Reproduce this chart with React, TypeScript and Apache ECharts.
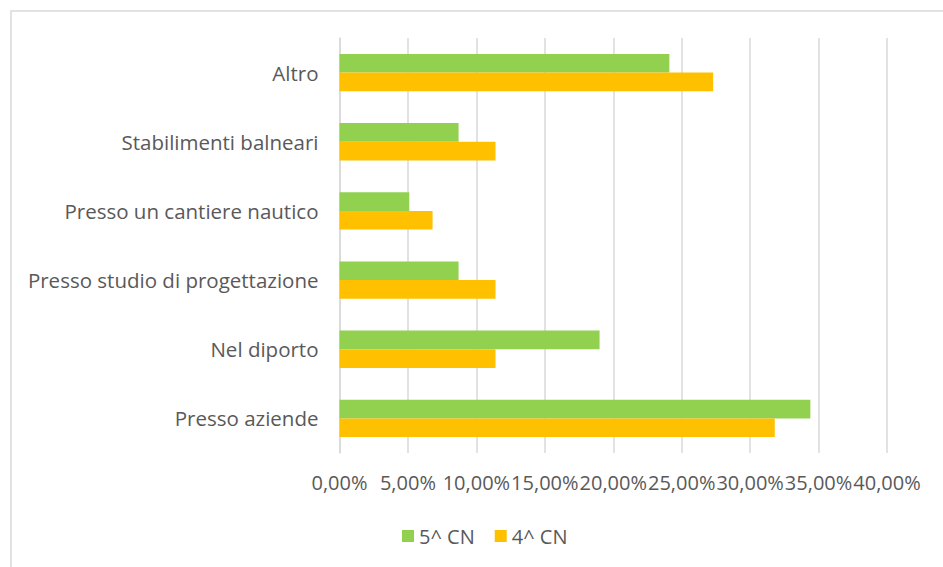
import React, { useEffect, useRef } from "react";
import * as echarts from "echarts";

const categories = [
  "Presso aziende",
  "Nel diporto",
  "Presso studio di progettazione",
  "Presso un cantiere nautico",
  "Stabilimenti balneari",
  "Altro",
];
const seriesNames = ["5^ CN", "4^ CN"];
const values5 = [34.4, 19.0, 8.7, 5.1, 8.7, 24.1];
const values4 = [31.8, 11.4, 11.4, 6.8, 11.4, 27.3];
const colors = ["#92D050", "#FFC000"];

const FONT = "'Open Sans', 'Segoe UI', sans-serif";
const TEXT = "#595959";

export default function App() {
  const ref = useRef<HTMLDivElement>(null);
  useEffect(() => {
    if (!ref.current) return;
    const chart = echarts.init(ref.current, undefined, { renderer: "svg" });
    chart.setOption({
      animation: false,
      backgroundColor: "#ffffff",
      textStyle: { fontFamily: FONT, color: TEXT },
      graphic: [
        {
          type: "rect",
          shape: { x: 11, y: 11, width: 1000, height: 1000 },
          style: { fill: "none", stroke: "#d9d9d9", lineWidth: 1.5 },
          silent: true,
        },
      ],
      grid: { left: 339.5, right: 56, top: 38, bottom: 114 },
      legend: {
        data: seriesNames,
        left: 397,
        top: 521,
        itemWidth: 12,
        itemHeight: 12,
        itemGap: 20,
        icon: "rect",
        textStyle: { fontFamily: FONT, fontSize: 20, color: TEXT },
      },
      xAxis: {
        type: "value",
        min: 0,
        max: 40,
        interval: 5,
        axisLine: { show: false },
        axisTick: { show: false },
        splitLine: { show: true, lineStyle: { color: "#d9d9d9", width: 1.5 } },
        axisLabel: {
          margin: 19,
          fontFamily: FONT,
          fontSize: 20,
          color: TEXT,
          formatter: (v: number) => v.toFixed(2).replace(".", ",") + "%",
        },
      },
      yAxis: {
        type: "category",
        data: categories,
        axisLine: { show: true, lineStyle: { color: "#d9d9d9", width: 1.5 } },
        axisTick: { show: false },
        splitLine: { show: false },
        axisLabel: { margin: 21, fontFamily: FONT, fontSize: 20.5, color: TEXT },
      },
      series: [
        {
          name: seriesNames[0],
          type: "bar",
          data: values5,
          itemStyle: { color: colors[0] },
          barGap: "0%",
          barCategoryGap: "46%",
        },
        {
          name: seriesNames[1],
          type: "bar",
          data: values4,
          itemStyle: { color: colors[1] },
          barGap: "0%",
          barCategoryGap: "46%",
        },
      ],
    });
    return () => chart.dispose();
  }, []);
  return (
    <div
      ref={ref}
      style={{ position: "absolute", left: 0, top: 0, width: 943, height: 567 }}
    />
  );
}
